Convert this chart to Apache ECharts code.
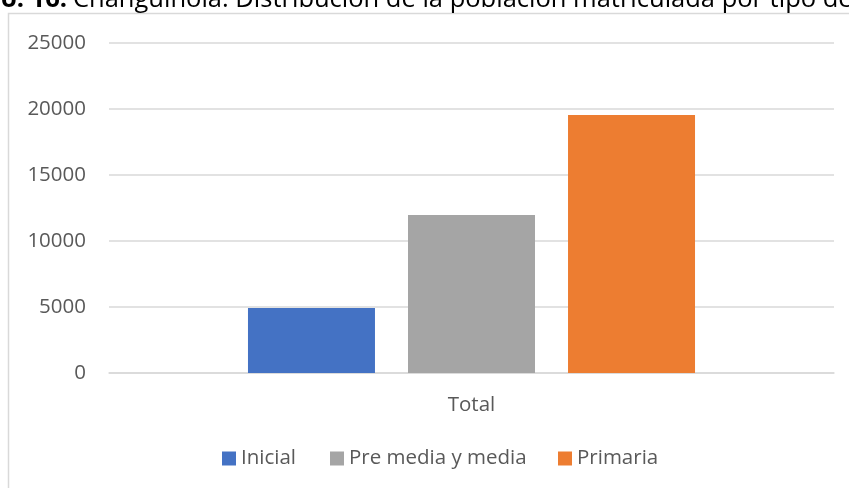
<!DOCTYPE html>
<html>
<head>
<meta charset="utf-8">
<script src="https://cdn.jsdelivr.net/npm/echarts@6/dist/echarts.min.js"></script>
<style>
  html, body { margin: 0; padding: 0; background: #fff; }
  #chart { width: 849px; height: 488px; }
</style>
</head>
<body>
<div id="chart"></div>
<script>
// datos
const categories = ['Total']
const seriesNames = ['Inicial', 'Pre media y media', 'Primaria']
const seriesValues = [[4920], [11970], [19550]]
const seriesColors = ['#4472C4', '#A5A5A5', '#ED7D31']
const yTicks = { min: 0, max: 25000, interval: 5000 }

const chart = echarts.init(document.getElementById('chart'))
const font = '"Open Sans", sans-serif'
const labelColor = '#595959'

// una leyenda por serie, como en la hoja de cálculo
const legendLeft = [217, 325, 553]
const legends = seriesNames.map((name, i) => ({
  data: [name],
  left: legendLeft[i],
  top: 443,
  itemWidth: 14,
  itemHeight: 14,
  icon: 'rect',
  textStyle: { fontFamily: font, fontSize: 20.5, color: labelColor }
}))

const option = {
  animation: false,
  graphic: [
    // marco del área del gráfico
    {
      type: 'rect',
      shape: { x: 8.5, y: 13.5, width: 900, height: 600 },
      style: { fill: 'none', stroke: '#d9d9d9', lineWidth: 1.5 },
      silent: true
    },
    // título recortado arriba
    {
      type: 'text',
      style: {
        x: 67, y: 0, text: 'Gráfico No. 16.',
        font: 'bold 25.5px ' + font, fill: '#000',
        textAlign: 'right', textVerticalAlign: 'middle'
      }
    },
    {
      type: 'text',
      style: {
        x: 73, y: 0,
        text: 'Changuinola: Distribución de la población matriculada por tipo de enseñanza',
        font: '25.5px ' + font, fill: '#000',
        textAlign: 'left', textVerticalAlign: 'middle'
      }
    }
  ],
  grid: { left: 109, right: 15, top: 43, bottom: 115 },
  legend: legends,
  xAxis: {
    type: 'category',
    data: categories,
    axisLine: { lineStyle: { color: '#d9d9d9', width: 1.5 } },
    axisTick: { show: false },
    axisLabel: { fontFamily: font, fontSize: 20.5, color: labelColor, margin: 22 }
  },
  yAxis: {
    type: 'value',
    min: yTicks.min,
    max: yTicks.max,
    interval: yTicks.interval,
    axisLine: { show: false },
    axisTick: { show: false },
    axisLabel: {
      fontFamily: font, fontSize: 20.5, color: labelColor, margin: 23,
      formatter: (v) => String(v)
    },
    splitLine: { lineStyle: { color: '#d9d9d9', width: 1.5 } }
  },
  series: seriesNames.map((name, i) => ({
    name: name,
    type: 'bar',
    data: seriesValues[i],
    barWidth: 127,
    barGap: '26%',
    itemStyle: { color: seriesColors[i] }
  }))
}

chart.setOption(option)
</script>
</body>
</html>
